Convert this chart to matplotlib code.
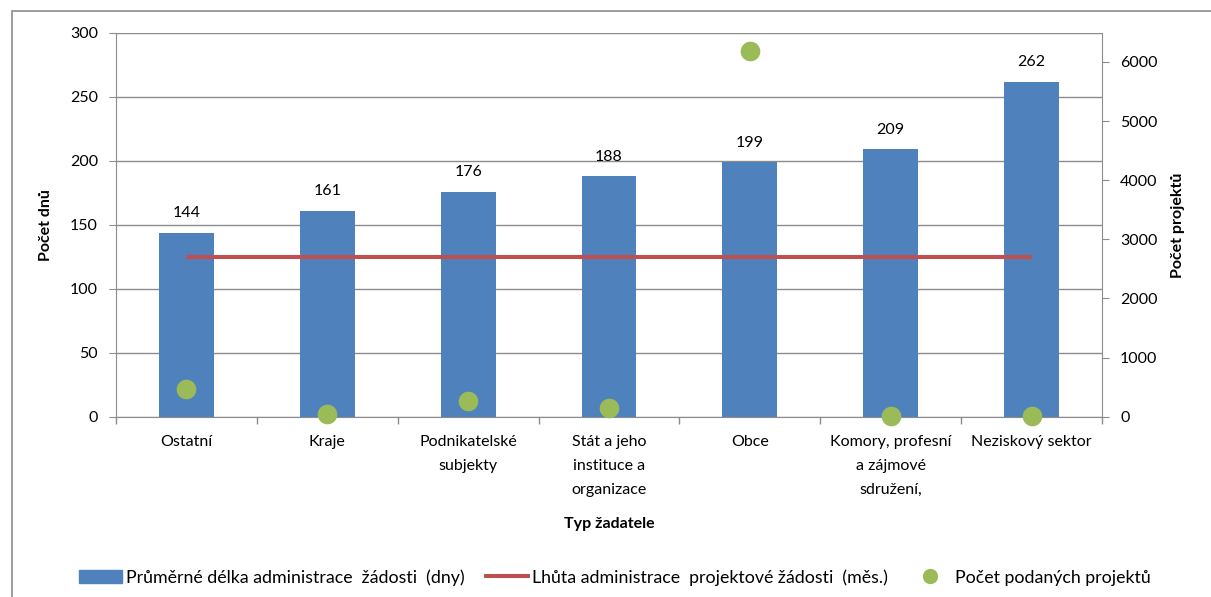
import matplotlib
matplotlib.use("Agg")
import matplotlib.pyplot as plt
import matplotlib.patches as patches
from matplotlib.lines import Line2D

plt.rcParams['font.family'] = ['Lato', 'DejaVu Sans']

# data
categories = ["Ostatní", "Kraje", "Podnikatelské\nsubjekty", "Stát a jeho\ninstituce a\norganizace",
              "Obce", "Komory, profesní\na zájmové\nsdružení,", "Neziskový sektor"]
avg_days = [144, 161, 176, 188, 199, 209, 262]
limit_days = [124.5] * 7
projects = [465, 40, 265, 140, 6180, 17, 17]

bar_color = '#4F81BD'
line_color = '#C0504D'
dot_color = '#9BBB59'
grid_color = '#8C8C8C'
fs = 11.5

fig = plt.figure(figsize=(12.11, 5.97), dpi=100)
ax = fig.add_axes([116 / 1211, 1 - 416.7 / 597, (1102 - 116) / 1211, (416.7 - 33) / 597])
ax2 = ax.twinx()

x = list(range(len(categories)))
ax.bar(x, avg_days, width=0.39, color=bar_color, zorder=2)
ax.plot(x, limit_days, color=line_color, lw=2.9, zorder=3, solid_capstyle='butt')
for xi, v in zip(x, avg_days):
    ax.annotate(str(v), (xi, v), xytext=(0, 9), textcoords='offset points',
                ha='center', va='bottom', fontsize=fs)

ax2.scatter(x, projects, s=200, color=dot_color, zorder=4, clip_on=False, linewidths=0)
ax.set_zorder(ax2.get_zorder() - 1)
ax.patch.set_visible(True)
ax2.patch.set_visible(False)

ax.set_xlim(-0.5, len(categories) - 0.5)
ax.set_ylim(0, 300)
ax.set_yticks(range(0, 301, 50))
ax2.set_ylim(0, 6490)
ax2.set_yticks(range(0, 6001, 1000))

ax.yaxis.grid(True, color=grid_color, lw=1)
ax.set_axisbelow(True)

# category ticks at boundaries, labels at centres
ax.set_xticks(x)
ax.set_xticklabels(categories, fontsize=fs, va='top')
for t in ax.get_xticklabels():
    t.set_linespacing(1.9)
ax.tick_params(axis='x', which='major', length=0, pad=13)
ax.set_xticks([i - 0.5 for i in range(len(categories) + 1)], minor=True)
ax.tick_params(axis='x', which='minor', length=5, color=grid_color, width=1)

ax.tick_params(axis='y', length=5, color=grid_color, labelsize=fs, pad=8)
ax2.tick_params(axis='y', length=5, color=grid_color, labelsize=fs, pad=8)

for a in (ax, ax2):
    a.spines['top'].set_visible(False)
    for side in ('left', 'right', 'bottom'):
        a.spines[side].set_color(grid_color)
ax.spines['right'].set_visible(False)
ax2.spines['left'].set_visible(False)
ax2.spines['bottom'].set_visible(False)

ax.set_ylabel("Počet dnů", fontsize=fs, fontweight='bold', labelpad=12)
ax2.set_ylabel("Počet projektů", fontsize=fs, fontweight='bold', labelpad=10)
ax.set_xlabel("Typ žadatele", fontsize=fs, fontweight='bold', labelpad=15)

# legend
handles = [
    patches.Patch(color=bar_color),
    Line2D([], [], color=line_color, lw=2.9),
    Line2D([], [], color=dot_color, marker='o', ls='none', markersize=10),
]
labels = ["Průměrné délka administrace  žádosti  (dny)",
          "Lhůta administrace  projektové žádosti  (měs.)",
          "Počet podaných projektů"]
fig.legend(handles, labels, loc='center', bbox_to_anchor=(0.508, 0.033), ncol=3,
           frameon=False, fontsize=12.8, handlelength=2.4, handletextpad=0.2, columnspacing=1.2)

# chart area border
fig.add_artist(patches.Rectangle((12 / 1211, -0.1), 1.2, 1.1 - 11 / 597, transform=fig.transFigure,
                                 fill=False, ec='#8C8C8C', lw=1.2))

fig.savefig('out.png', dpi=100)
